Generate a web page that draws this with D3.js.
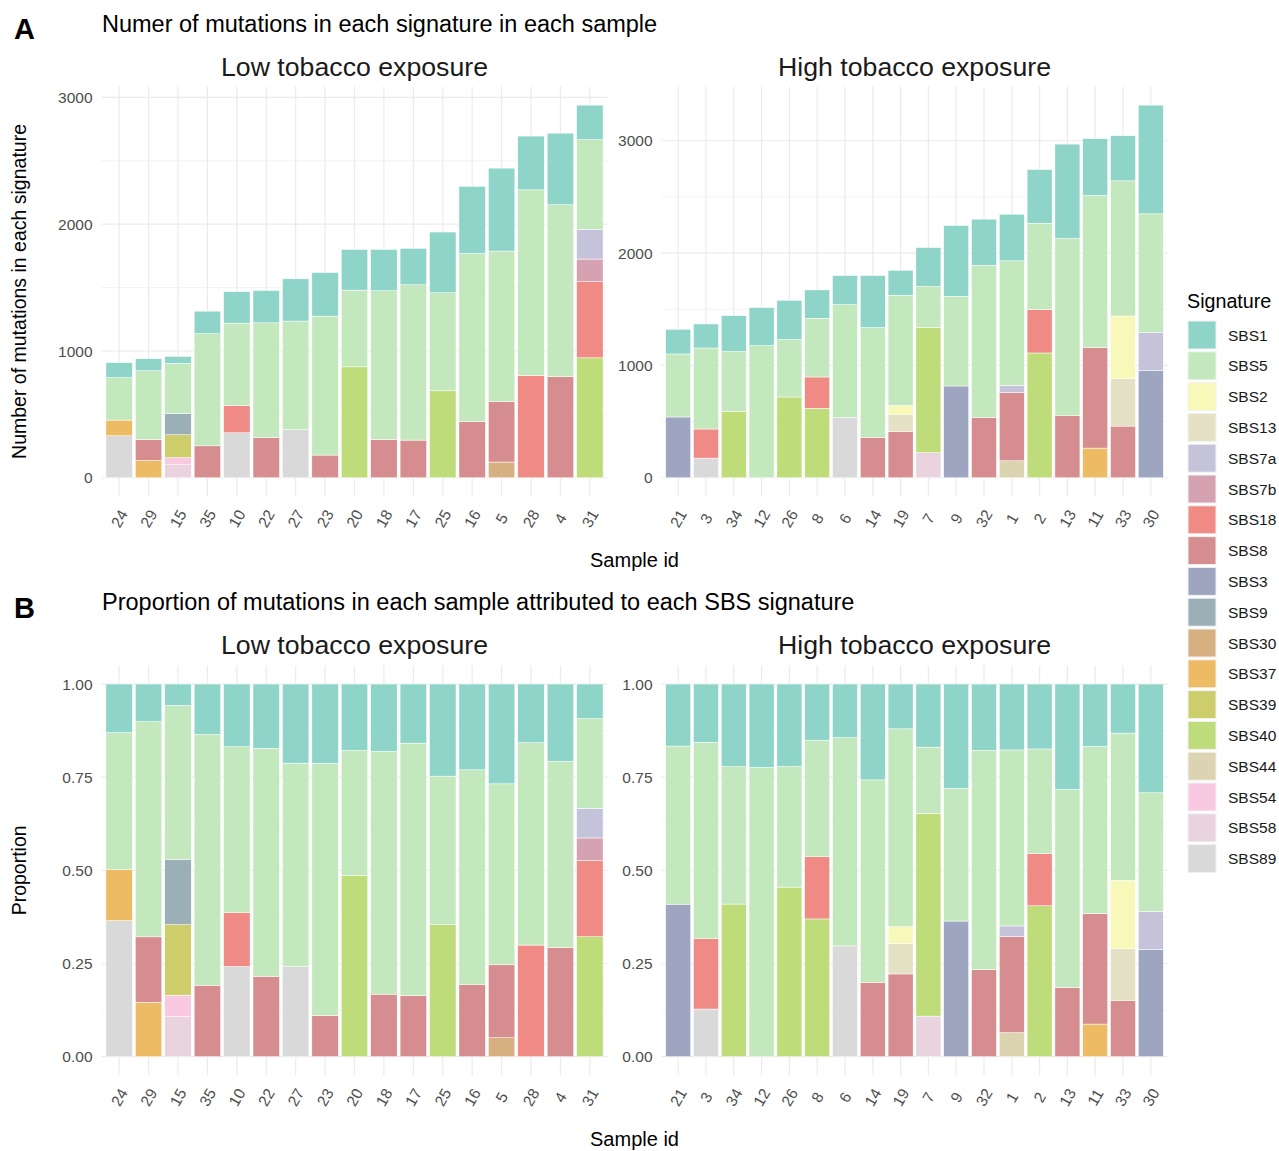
<!DOCTYPE html>
<html>
<head>
<meta charset="utf-8">
<script src="https://cdn.jsdelivr.net/npm/d3@7"></script>
<style>
  body { margin: 0; background: #fff; }
  svg text { font-family: "Liberation Sans", Arial, sans-serif; }
</style>
</head>
<body>
<div id="chart"></div>
<script>
// signatures in legend order (first one is drawn on top of each bar)
const signatures = ["SBS1", "SBS5", "SBS2", "SBS13", "SBS7a", "SBS7b", "SBS18", "SBS8", "SBS3",
    "SBS9", "SBS30", "SBS37", "SBS39", "SBS40", "SBS44", "SBS54", "SBS58", "SBS89"];
const sigColors = ["#8ed4c8", "#c3e8bd", "#f8f9b8", "#e4e1c4", "#c5c3d9", "#d5a2b2", "#ef8a84", "#d68d8f", "#9da5c0",
    "#9bafb7", "#d6b080", "#eebb65", "#cecd6c", "#bedc79", "#dcd3b0", "#f8c9e1", "#e8d3df", "#d9d9d9"];

const lowSamples = ["24", "29", "15", "35", "10", "22", "27", "23", "20", "18", "17", "25", "16", "5", "28", "4", "31"];
const lowCounts = [
    {SBS89: 331, SBS37: 124, SBS5: 334, SBS1: 118},
    {SBS37: 137, SBS8: 165, SBS5: 542, SBS1: 95},
    {SBS58: 103, SBS54: 55, SBS39: 181, SBS9: 168, SBS5: 395, SBS1: 55},
    {SBS8: 252, SBS5: 884, SBS1: 178},
    {SBS89: 355, SBS18: 213, SBS5: 652, SBS1: 247},
    {SBS8: 318, SBS5: 904, SBS1: 255},
    {SBS89: 381, SBS5: 855, SBS1: 333},
    {SBS8: 179, SBS5: 1096, SBS1: 344},
    {SBS40: 875, SBS5: 605, SBS1: 321},
    {SBS8: 302, SBS5: 1173, SBS1: 326},
    {SBS8: 297, SBS5: 1225, SBS1: 287},
    {SBS40: 686, SBS5: 773, SBS1: 479},
    {SBS8: 444, SBS5: 1325, SBS1: 529},
    {SBS30: 124, SBS8: 478, SBS5: 1186, SBS1: 654},
    {SBS18: 807, SBS5: 1464, SBS1: 424},
    {SBS8: 797, SBS5: 1356, SBS1: 565},
    {SBS40: 946, SBS18: 600, SBS7b: 179, SBS7a: 234, SBS5: 707, SBS1: 273}
];

const highSamples = ["21", "3", "34", "12", "26", "8", "6", "14", "19", "7", "9", "32", "1", "2", "13", "11", "33", "30"];
const highCounts = [
    {SBS3: 541, SBS5: 561, SBS1: 220},
    {SBS89: 175, SBS18: 259, SBS5: 721, SBS1: 214},
    {SBS40: 591, SBS5: 532, SBS1: 320},
    {SBS5: 1176, SBS1: 339},
    {SBS40: 719, SBS5: 511, SBS1: 350},
    {SBS40: 618, SBS18: 279, SBS5: 523, SBS1: 252},
    {SBS89: 535, SBS5: 1006, SBS1: 259},
    {SBS8: 359, SBS5: 978, SBS1: 463},
    {SBS8: 410, SBS13: 151, SBS2: 83, SBS5: 981, SBS1: 222},
    {SBS58: 223, SBS40: 1114, SBS5: 365, SBS1: 347},
    {SBS3: 817, SBS5: 799, SBS1: 629},
    {SBS8: 538, SBS5: 1354, SBS1: 410},
    {SBS44: 151, SBS8: 606, SBS7a: 66, SBS5: 1108, SBS1: 415},
    {SBS40: 1111, SBS18: 386, SBS5: 769, SBS1: 478},
    {SBS8: 552, SBS5: 1578, SBS1: 840},
    {SBS37: 264, SBS8: 894, SBS5: 1355, SBS1: 505},
    {SBS8: 460, SBS13: 422, SBS2: 558, SBS5: 1203, SBS1: 401},
    {SBS3: 953, SBS7a: 339, SBS5: 1057, SBS1: 968}
];

const countTicks = [0, 1000, 2000, 3000];
const countMinor = [500, 1500, 2500];
const propTicks = [0, 0.25, 0.5, 0.75, 1];
const propMinor = [0.125, 0.375, 0.625, 0.875];

const W = 1279, H = 1151;
const color = d3.scaleOrdinal().domain(signatures).range(sigColors);
const stackKeys = signatures.slice().reverse();

const svg = d3.select("#chart").append("svg")
    .attr("width", W)
    .attr("height", H);

const panelsX = [[101.5, 607.5], [661.5, 1167.5]];
const rowTop = [86.5, 665.4], rowH = 409.9;
const gridCol = "#ebebeb", textCol = "#4d4d4d";

function drawPanel(row, col, names, counts, prop, strip) {
    const [x0, x1] = panelsX[col];
    const top = rowTop[row], bottom = top + rowH;
    const g = svg.append("g");

    const rows = counts.map((c, i) => Object.assign({id: names[i]}, c));
    const stack = d3.stack()
        .keys(stackKeys)
        .value((d, k) => d[k] || 0);
    if (prop) stack.offset(d3.stackOffsetExpand);
    const series = stack(rows);

    const x = d3.scaleBand()
        .domain(names)
        .range([x0, x1])
        .paddingInner(0.1)
        .paddingOuter(0.15);

    let y, ticks, minor, fmt;
    if (prop) {
        y = d3.scaleLinear().domain([-0.05, 1.05]).range([bottom, top]);
        ticks = propTicks; minor = propMinor; fmt = d3.format(".2f");
    } else {
        const maxV = d3.max(rows, r => d3.sum(stackKeys, k => r[k] || 0));
        y = d3.scaleLinear().domain([-0.05 * maxV, 1.05 * maxV]).range([bottom, top]);
        ticks = countTicks; minor = countMinor.filter(v => v < 1.05 * maxV); fmt = d3.format("d");
    }

    // grid
    g.selectAll(".minor").data(minor).enter().append("line")
        .attr("x1", x0).attr("x2", x1)
        .attr("y1", d => y(d)).attr("y2", d => y(d))
        .style("stroke", gridCol).style("stroke-width", 0.6);
    g.selectAll(".major").data(ticks).enter().append("line")
        .attr("x1", x0).attr("x2", x1)
        .attr("y1", d => y(d)).attr("y2", d => y(d))
        .style("stroke", gridCol).style("stroke-width", 1.2);
    g.selectAll(".vgrid").data(names).enter().append("line")
        .attr("x1", d => x(d) + x.bandwidth() / 2).attr("x2", d => x(d) + x.bandwidth() / 2)
        .attr("y1", top).attr("y2", bottom)
        .style("stroke", gridCol).style("stroke-width", 1.2);

    // bars
    g.selectAll(".layer").data(series).enter().append("g")
        .style("fill", d => color(d.key))
        .selectAll("rect").data(d => d.filter(s => s[1] - s[0] > 0)).enter().append("rect")
        .attr("x", d => x(d.data.id))
        .attr("width", x.bandwidth())
        .attr("y", d => y(d[1]))
        .attr("height", d => y(d[0]) - y(d[1]))
        .style("stroke", "#fff")
        .style("stroke-width", 0.5);

    // y tick labels
    g.selectAll(".ylab").data(ticks).enter().append("text")
        .attr("x", x0 - 9)
        .attr("y", d => y(d))
        .attr("dy", "0.36em")
        .attr("text-anchor", "end")
        .style("font-size", "15.5px")
        .style("fill", textCol)
        .text(fmt);

    // x tick labels
    g.selectAll(".xlab").data(names).enter().append("text")
        .attr("transform", d => "translate(" + (x(d) + x.bandwidth() / 2) + "," + (bottom + 22) + ") rotate(-60)")
        .attr("dy", "0.36em")
        .attr("text-anchor", "middle")
        .style("font-size", "15.5px")
        .style("fill", textCol)
        .text(d => d);

    // strip
    g.append("text")
        .attr("x", (x0 + x1) / 2)
        .attr("y", top - 11)
        .attr("text-anchor", "middle")
        .style("font-size", "26.7px")
        .style("fill", "#1a1a1a")
        .text(strip);
}

[0, 1].forEach(row => {
    const prop = row === 1;
    drawPanel(row, 0, lowSamples, lowCounts, prop, "Low tobacco exposure");
    drawPanel(row, 1, highSamples, highCounts, prop, "High tobacco exposure");

    const top = rowTop[row];
    svg.append("text")
        .attr("x", 14).attr("y", top - 47.5)
        .style("font-size", "29px").style("font-weight", "bold")
        .text(row === 0 ? "A" : "B");
    svg.append("text")
        .attr("x", 102).attr("y", top - 55)
        .style("font-size", "23.5px").style("fill", "#000")
        .text(row === 0 ? "Numer of mutations in each signature in each sample"
            : "Proportion of mutations in each sample attributed to each SBS signature");
    svg.append("text")
        .attr("transform", "translate(26," + (top + rowH / 2) + ") rotate(-90)")
        .attr("text-anchor", "middle")
        .style("font-size", "19.5px").style("fill", "#000")
        .text(row === 0 ? "Number of mutations in each signature" : "Proportion");
    svg.append("text")
        .attr("x", 634.5).attr("y", top + rowH + 71)
        .attr("text-anchor", "middle")
        .style("font-size", "20px").style("fill", "#000")
        .text("Sample id");
});

// legend
const legend = svg.append("g").attr("transform", "translate(1188,0)");
legend.append("text")
    .attr("x", -1).attr("y", 308)
    .style("font-size", "19.7px")
    .text("Signature");
const item = legend.selectAll(".item").data(signatures).enter().append("g")
    .attr("transform", (d, i) => "translate(0," + (321 + i * 30.8) + ")");
item.append("rect")
    .attr("width", 28).attr("height", 28)
    .style("fill", d => color(d))
    .style("stroke", "#f2f2f2").style("stroke-width", 1);
item.append("text")
    .attr("x", 40).attr("y", 14).attr("dy", "0.36em")
    .style("font-size", "15.5px").style("fill", "#1a1a1a")
    .text(d => d);
</script>
</body>
</html>
